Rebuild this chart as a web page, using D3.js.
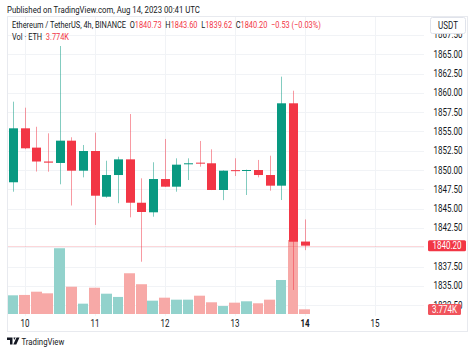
<!DOCTYPE html>
<html>
<head>
<meta charset="utf-8">
<script src="https://cdn.jsdelivr.net/npm/d3@7"></script>
<style>
    body { margin: 0; background: #fff; }
    svg text { font-family: Roboto, "Liberation Sans", sans-serif; }
</style>
</head>
<body>
<div id="chart"></div>
<script>
// ETH/USDT 4h candles, Aug 9 16:00 -> Aug 14 00:00 (UTC)
const times = [
    '2023-08-09T16:00Z', '2023-08-09T20:00Z',
    '2023-08-10T00:00Z', '2023-08-10T04:00Z', '2023-08-10T08:00Z', '2023-08-10T12:00Z', '2023-08-10T16:00Z', '2023-08-10T20:00Z',
    '2023-08-11T00:00Z', '2023-08-11T04:00Z', '2023-08-11T08:00Z', '2023-08-11T12:00Z', '2023-08-11T16:00Z', '2023-08-11T20:00Z',
    '2023-08-12T00:00Z', '2023-08-12T04:00Z', '2023-08-12T08:00Z', '2023-08-12T12:00Z', '2023-08-12T16:00Z', '2023-08-12T20:00Z',
    '2023-08-13T00:00Z', '2023-08-13T04:00Z', '2023-08-13T08:00Z', '2023-08-13T12:00Z', '2023-08-13T16:00Z', '2023-08-13T20:00Z',
    '2023-08-14T00:00Z'
];
const opens  = [1850.6, 1848.41, 1855.40, 1852.90, 1851.10, 1850.91, 1853.80, 1849.91, 1852.46, 1846.54, 1849.35, 1851.38, 1845.76, 1844.52,
                1848.83, 1847.84, 1850.74, 1850.95, 1850.87, 1847.41, 1849.98, 1849.92, 1850.00, 1849.35, 1847.97, 1858.64, 1840.73];
const highs  = [1851.5, 1858.85, 1858.07, 1855.60, 1854.75, 1866.06, 1854.24, 1853.24, 1854.83, 1851.20, 1851.72, 1857.25, 1848.92, 1851.00,
                1854.02, 1851.51, 1851.51, 1853.76, 1852.68, 1849.95, 1851.52, 1850.05, 1851.30, 1851.85, 1862.09, 1860.27, 1843.60];
const lows   = [1847.9, 1847.19, 1852.70, 1849.80, 1849.78, 1848.15, 1845.40, 1849.05, 1842.88, 1846.40, 1845.70, 1843.87, 1838.12, 1843.95,
                1847.80, 1847.19, 1848.70, 1850.43, 1847.40, 1846.10, 1849.22, 1846.76, 1849.05, 1847.32, 1846.11, 1834.46, 1839.62];
const closes = [1848.41, 1855.40, 1852.81, 1851.10, 1850.95, 1853.80, 1849.91, 1852.46, 1846.67, 1849.35, 1851.38, 1845.76, 1844.56, 1848.83,
                1847.84, 1850.69, 1850.87, 1850.90, 1847.41, 1849.91, 1849.90, 1850.00, 1849.35, 1847.97, 1858.64, 1840.71, 1840.20];
// volume in thousands of ETH
const volumes = [32.7, 15.0, 15.3, 17.9, 16.6, 52.8, 21.9, 8.3, 21.1, 16.3, 13.7, 32.7, 23.9, 10.7,
                 13.1, 11.5, 11.5, 14.7, 9.4, 6.4, 9.1, 10.2, 8.6, 11.5, 27.3, 59.4, 3.774];

const dayTicks = ['2023-08-10T00:00Z', '2023-08-11T00:00Z', '2023-08-12T00:00Z', '2023-08-13T00:00Z', '2023-08-14T00:00Z', '2023-08-15T00:00Z'];
const priceTicks = [1832.5, 1835, 1837.5, 1840, 1842.5, 1845, 1847.5, 1850, 1852.5, 1855, 1857.5, 1860, 1862.5, 1865, 1867.5];

const lastPrice = 1840.20;
const lastVolume = '3.774K';
const legendParts = [
    ['Ethereum / TetherUS, 4h, BINANCE  O', '#131722'], ['1840.73', '#F23645'],
    ['  H', '#131722'], ['1843.60', '#F23645'],
    ['  L', '#131722'], ['1839.62', '#F23645'],
    ['  C', '#131722'], ['1840.20', '#F23645'],
    ['  \u22120.53 (\u22120.03%)', '#F23645']
];

const UP = '#089981', DOWN = '#F23645';
const UP_VOL = '#92D2CC', DOWN_VOL = '#F7A9A7';
const SX = 0.8; // the snapshot's text is horizontally narrow

// place a text at (x, y) with a narrow horizontal scale
const at = (x, y, sx = SX) => `translate(${x},${y}) scale(${sx},1)`;

class CandleChart {
    #scaleX;
    #scaleY;
    #scaleV;

    constructor(container, width, height) {
        this.width = width;
        this.height = height;
        // frame of the chart pane
        this.frame = { left: 7.5, top: 16.5, right: 467.5, bottom: 331.5 };
        this.plot = { left: 7.5, top: 16.5, right: 424, bottom: 316 };

        this.svg = d3.select(container)
            .append('svg')
            .attr('width', this.width)
            .attr('height', this.height);

        this.svg.append('clipPath').attr('id', 'plotclip')
            .append('rect')
            .attr('x', this.plot.left).attr('y', this.plot.top)
            .attr('width', this.plot.right - this.plot.left)
            .attr('height', this.plot.bottom - this.plot.top);
    }

    render(data) {
        this.data = data;
        this.#updateScales();

        const f = this.frame, p = this.plot;
        const step = this.#scaleX(new Date('2023-08-10T04:00Z')) - this.#scaleX(new Date('2023-08-10T00:00Z'));

        // grid
        const grid = this.svg.append('g').attr('stroke', '#f1f3f6').attr('stroke-width', 1);
        grid.selectAll('line.h')
            .data(priceTicks)
            .join('line')
            .attr('x1', p.left).attr('x2', p.right)
            .attr('y1', d => Math.round(this.#scaleY(d)) + 0.5)
            .attr('y2', d => Math.round(this.#scaleY(d)) + 0.5);
        grid.selectAll('line.v')
            .data(dayTicks.map(d => new Date(d)))
            .join('line')
            .attr('y1', p.top).attr('y2', p.bottom)
            .attr('x1', d => Math.round(this.#scaleX(d)) + 0.5)
            .attr('x2', d => Math.round(this.#scaleX(d)) + 0.5);

        const plotG = this.svg.append('g').attr('clip-path', 'url(#plotclip)');

        // volume bars
        plotG.append('g')
            .selectAll('rect')
            .data(this.data)
            .join('rect')
            .attr('x', d => Math.round(this.#scaleX(d.t) - step / 2))
            .attr('width', d => Math.round(this.#scaleX(d.t) + step / 2) - Math.round(this.#scaleX(d.t) - step / 2) - 1)
            .attr('y', d => this.#scaleV(d.v))
            .attr('height', d => this.#scaleV(0) - this.#scaleV(d.v))
            .attr('fill', d => d.c >= d.o ? UP_VOL : DOWN_VOL);

        // last price line
        plotG.append('line')
            .attr('x1', p.left).attr('x2', p.right)
            .attr('y1', Math.round(this.#scaleY(lastPrice)) + 0.5)
            .attr('y2', Math.round(this.#scaleY(lastPrice)) + 0.5)
            .attr('stroke', DOWN).attr('stroke-opacity', 0.2);

        // candles
        const bodyW = 9;
        const candles = plotG.append('g')
            .selectAll('g')
            .data(this.data)
            .join('g');

        candles.append('line')
            .attr('x1', d => Math.round(this.#scaleX(d.t) - bodyW / 2) + bodyW / 2)
            .attr('x2', d => Math.round(this.#scaleX(d.t) - bodyW / 2) + bodyW / 2)
            .attr('y1', d => this.#scaleY(d.h))
            .attr('y2', d => this.#scaleY(d.l))
            .attr('stroke', d => d.c >= d.o ? UP : DOWN)
            .attr('stroke-opacity', 0.5);

        candles.append('rect')
            .attr('x', d => Math.round(this.#scaleX(d.t) - bodyW / 2))
            .attr('width', bodyW)
            .attr('y', d => this.#scaleY(Math.max(d.o, d.c)))
            .attr('height', d => Math.max(1, Math.abs(this.#scaleY(d.o) - this.#scaleY(d.c))))
            .attr('fill', d => d.c >= d.o ? UP : DOWN);

        // price axis labels
        this.svg.append('g')
            .selectAll('text')
            .data(priceTicks)
            .join('text')
            .attr('transform', d => at(462.5, this.#scaleY(d)))
            .attr('dy', '0.35em')
            .attr('text-anchor', 'end')
            .attr('font-size', 10)
            .attr('fill', '#131722')
            .text(d => d3.format('.2f')(d));

        // time axis labels
        this.svg.append('g')
            .selectAll('text')
            .data(dayTicks.map(d => new Date(d)))
            .join('text')
            .attr('transform', d => at(this.#scaleX(d), 323))
            .attr('dy', '0.35em')
            .attr('text-anchor', 'middle')
            .attr('font-size', 10)
            .attr('font-weight', d => d.getUTCDate() === 14 ? 'bold' : 'normal')
            .attr('fill', '#131722')
            .text(d => d.getUTCDate());

        // last price / last volume badges
        const badge = (yc, txt, w, fill) => {
            const g = this.svg.append('g');
            g.append('rect')
                .attr('x', 428).attr('y', yc - 5.5)
                .attr('width', w).attr('height', 11)
                .attr('rx', 1.5)
                .attr('fill', fill);
            g.append('text')
                .attr('transform', at(428 + w / 2, yc))
                .attr('dy', '0.35em')
                .attr('text-anchor', 'middle')
                .attr('font-size', 10)
                .attr('fill', '#fff')
                .text(txt);
        };
        badge(this.#scaleY(lastPrice), d3.format('.2f')(lastPrice), 38, DOWN);
        badge(this.#scaleV(0) - 4.5, lastVolume, 33, '#F0535C');

        // currency box
        this.svg.append('rect')
            .attr('x', 430.5).attr('y', 17.5)
            .attr('width', 35).attr('height', 16)
            .attr('rx', 2)
            .attr('fill', '#fff')
            .attr('stroke', '#e0e3eb');
        this.svg.append('text')
            .attr('transform', at(448, 25.5))
            .attr('dy', '0.35em')
            .attr('text-anchor', 'middle')
            .attr('font-size', 10)
            .attr('fill', '#131722')
            .text('USDT');

        // frame
        this.svg.append('rect')
            .attr('x', f.left).attr('y', f.top)
            .attr('width', f.right - f.left).attr('height', f.bottom - f.top)
            .attr('fill', 'none')
            .attr('stroke', '#e8eaef');

        // legend
        const legend = this.svg.append('text')
            .attr('transform', at(12, 25, 0.78))
            .attr('dy', '0.35em')
            .attr('font-size', 9.5)
            .attr('xml:space', 'preserve');
        legend.selectAll('tspan')
            .data(legendParts)
            .join('tspan')
            .attr('fill', d => d[1])
            .text(d => d[0]);

        const vol = this.svg.append('text')
            .attr('transform', at(12, 37, 0.78))
            .attr('dy', '0.35em')
            .attr('font-size', 9.5)
            .attr('xml:space', 'preserve');
        vol.append('tspan').attr('fill', '#131722').text('Vol \u00b7 ETH  ');
        vol.append('tspan').attr('fill', DOWN).text(lastVolume);

        // header and footer
        this.svg.append('text')
            .attr('transform', at(7, 10, 0.82))
            .attr('dy', '0.35em')
            .attr('font-size', 9.5)
            .attr('fill', '#131722')
            .text('Published on TradingView.com, Aug 14, 2023 00:41 UTC');

        this.svg.append('path')
            .attr('d', 'M7,337.5h5.5v7h-2.5v-4.5h-3z M13.5,337.5h2.2l-1.6,2.6z M16.5,337.5h3l-3.2,7h-3z')
            .attr('fill', '#131722');
        this.svg.append('text')
            .attr('transform', at(21.5, 342, 0.82))
            .attr('dy', '0.35em')
            .attr('font-size', 9.5)
            .attr('fill', '#131722')
            .text('TradingView');
    }

    #updateScales() {
        this.#scaleX = d3.scaleUtc([new Date('2023-08-10T00:00Z'), new Date('2023-08-14T00:00Z')], [25, 305]);
        this.#scaleY = d3.scaleLinear([1835, 1865], [285.8, 54.2]);
        this.#scaleV = d3.scaleLinear([0, d3.max(this.data, d => d.v)], [314, 240]);
    }
}

const data = times.map((t, i) => ({
    t: new Date(t),
    o: opens[i],
    h: highs[i],
    l: lows[i],
    c: closes[i],
    v: volumes[i]
}));

const chart = new CandleChart('#chart', 474, 353);
chart.render(data);
</script>
</body>
</html>
